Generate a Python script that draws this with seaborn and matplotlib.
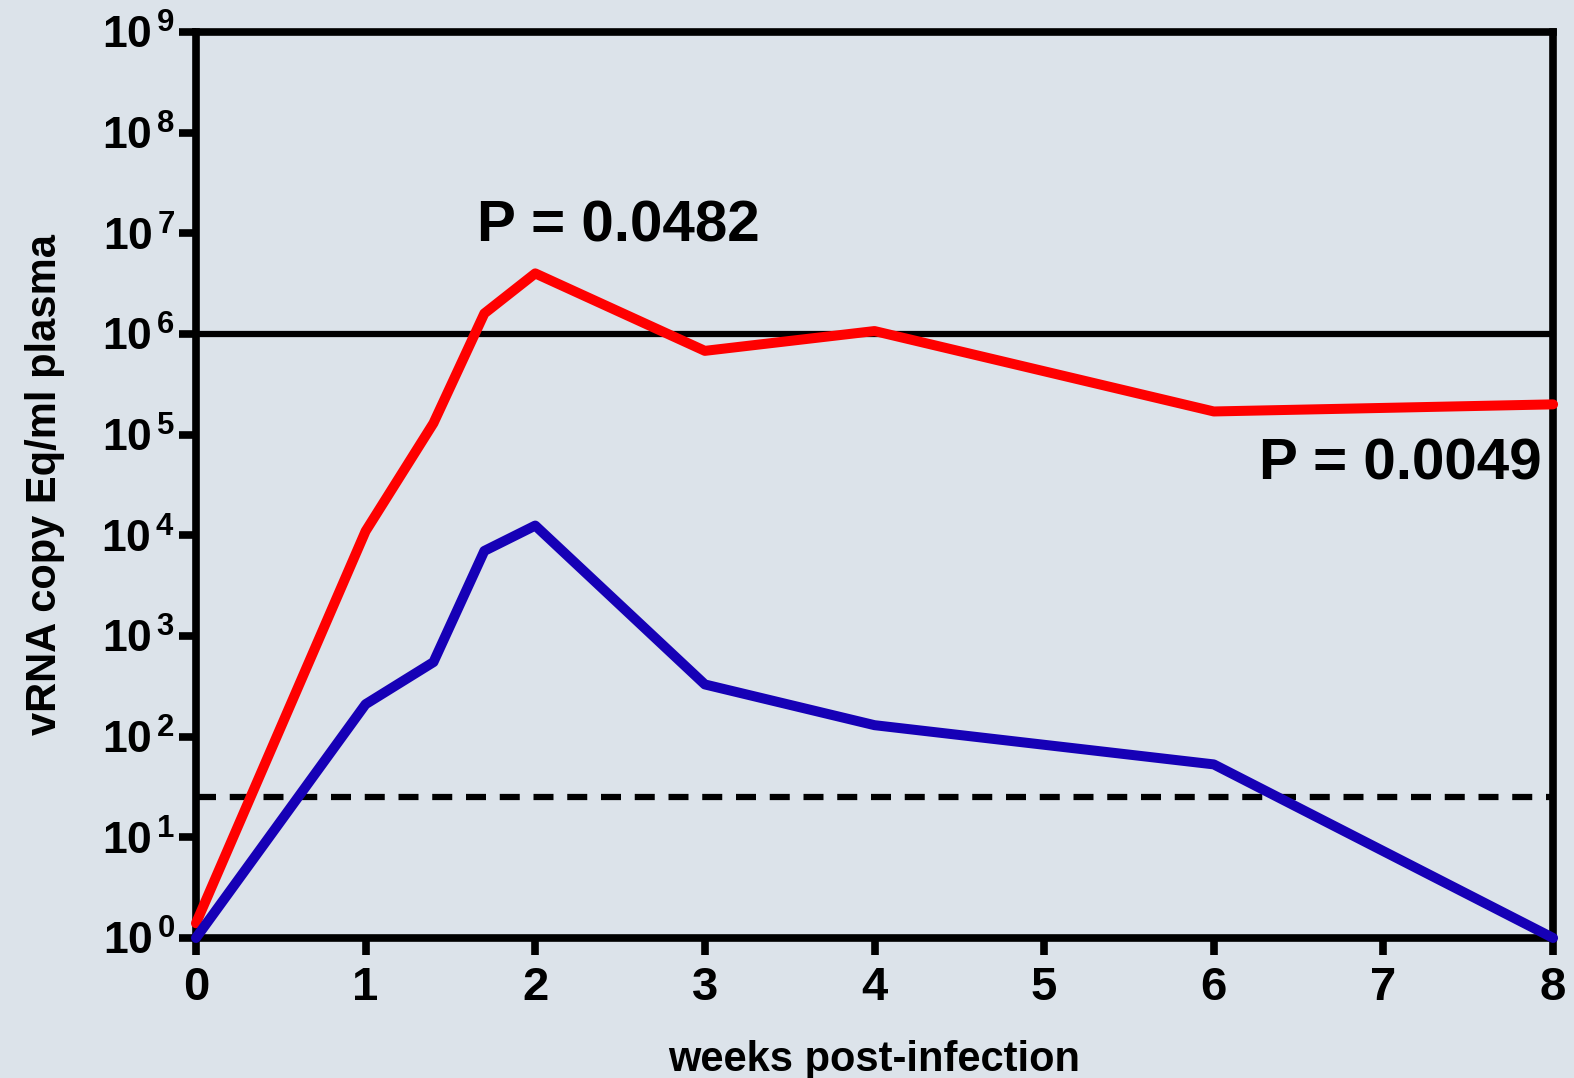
import numpy as np
import pandas as pd
import matplotlib
matplotlib.use("Agg")
import matplotlib.pyplot as plt
import seaborn as sns
from matplotlib.ticker import FixedLocator, FuncFormatter

# ---- data ----
weeks = [0, 1, 1.4, 1.7, 2, 3, 4, 6, 8]
red_values = [1.4, 1.1e4, 1.3e5, 1.6e6, 4.0e6, 6.8e5, 1.07e6, 1.7e5, 2.0e5]
blue_values = [1.0, 2.1e2, 5.5e2, 7.0e3, 1.25e4, 3.3e2, 1.3e2, 53, 1.0]
solid_ref = 1e6
dashed_ref = 25
x_ticks = [0, 1, 2, 3, 4, 5, 6, 7, 8]
y_exponents = [0, 1, 2, 3, 4, 5, 6, 7, 8, 9]
annotations = [("P = 0.0482", 2.49, 10 ** 7.07), ("P = 0.0049", 7.1, 10 ** 4.7)]
x_label = "weeks post-infection"
y_label = "vRNA copy Eq/ml plasma"

df = pd.DataFrame({
    "week": weeks * 2,
    "value": red_values + blue_values,
    "group": ["red"] * len(weeks) + ["blue"] * len(weeks),
})

sns.set_theme(style="ticks")
bg = "#dce3ea"
plt.rcParams["font.family"] = ["Liberation Sans", "DejaVu Sans"]
plt.rcParams["font.weight"] = "bold"
plt.rcParams["text.color"] = "black"
plt.rcParams["axes.labelcolor"] = "black"
plt.rcParams["xtick.color"] = "black"
plt.rcParams["ytick.color"] = "black"
plt.rcParams["mathtext.fontset"] = "custom"
plt.rcParams["mathtext.rm"] = "Liberation Sans:bold"
plt.rcParams["mathtext.bf"] = "Liberation Sans:bold"
plt.rcParams["mathtext.it"] = "Liberation Sans:bold"

fig = plt.figure(figsize=(15.74, 10.78), dpi=100, facecolor=bg)
ax = fig.add_axes([0.1245, 0.1299, 0.8622, 0.8404])
ax.set_facecolor(bg)

ax.axhline(solid_ref, color="black", lw=4.5, zorder=1)
ax.axhline(dashed_ref, color="black", lw=4.5, ls=(0, (3.2, 2.2)), zorder=1)

sns.lineplot(data=df, x="week", y="value", hue="group",
             palette={"red": "#ff0000", "blue": "#1600b6"},
             lw=7.2, ax=ax, legend=False, zorder=3, estimator=None, sort=False)
for ln in ax.get_lines():
    ln.set_clip_on(False)

ax.set_yscale("log")
ax.set_ylim(1, 1e9)
ax.set_xlim(0, 8)
ax.yaxis.set_major_locator(FixedLocator([10.0 ** e for e in y_exponents]))
ax.yaxis.set_minor_locator(FixedLocator([]))
ax.yaxis.set_major_formatter(FuncFormatter(lambda v, p: r"$\mathbf{10^{\,%d}}$" % round(np.log10(v))))
ax.xaxis.set_major_locator(FixedLocator(x_ticks))
ax.set_xticklabels([str(t) for t in x_ticks])

for s in ax.spines.values():
    s.set_linewidth(5.5)
    s.set_color("black")
ax.tick_params(axis="both", which="major", length=12, width=5.5, color="black",
               direction="out", labelsize=34, pad=3)
ax.tick_params(axis="y", labelsize=32)
ax.tick_params(axis="x", pad=8)
for lab in ax.get_xticklabels() + ax.get_yticklabels():
    lab.set_fontweight("bold")
    lab.set_color("black")

ax.set_xlabel(x_label, fontsize=30, fontweight="bold", labelpad=22)
ax.set_ylabel(y_label, fontsize=30, fontweight="bold", labelpad=26)

for txt, xx, yy in annotations:
    ax.text(xx, yy, txt, fontsize=42, fontweight="bold", ha="center", va="center",
            color="black", zorder=4)

fig.savefig("out.png", dpi=100, facecolor=bg)
